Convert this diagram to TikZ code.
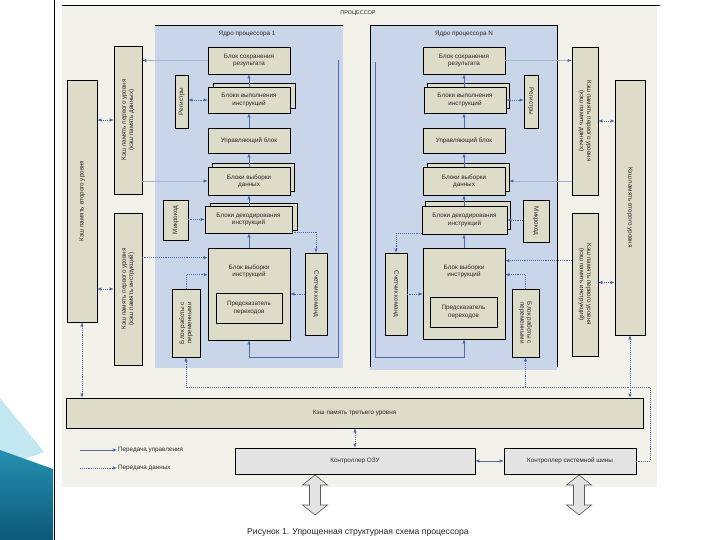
\documentclass[tikz,border=0pt]{standalone}
\usepackage{fontspec}
\setmainfont{Liberation Sans}
\usetikzlibrary{arrows.meta,calc}
\definecolor{panel}{HTML}{F2F2EB}
\definecolor{corebg}{HTML}{C9D6EA}
\definecolor{boxfill}{HTML}{DCDCC9}
\definecolor{ctrlfill}{HTML}{E4E4E4}
\definecolor{arr}{HTML}{4A6CAB}
\definecolor{faint}{HTML}{A3B6D8}
\definecolor{tealA}{HTML}{2690B2}
\definecolor{tealB}{HTML}{0C5877}
\definecolor{tealC}{HTML}{C2E7F0}
\newcommand\dfont{\fontsize{6.3}{7.2}\selectfont}
\begin{document}
\begin{tikzpicture}[x=1pt,y=-1pt,
  >={Latex[length=4pt,width=3.4pt]},
  blk/.style={draw=black,line width=0.6pt,fill=boxfill,inner sep=1pt,align=center,font=\dfont,text=black!85},
  cbox/.style={draw=black,line width=0.6pt,fill=ctrlfill,inner sep=1pt,align=center,font=\dfont,text=black!85},
  vtxt/.style={rotate=90,align=center,font=\dfont,text=black!85,inner sep=0pt},
  vtxtr/.style={rotate=-90,align=center,font=\dfont,text=black!85,inner sep=0pt},
  txt/.style={align=center,font=\dfont,text=black!85,inner sep=0pt},
  ctrlarr/.style={draw=arr,line width=0.6pt},
  dataarr/.style={draw=arr,line width=0.6pt,dash pattern=on 1.1pt off 1pt},
  faintarr/.style={draw=faint,line width=0.6pt,arrows={-Latex[length=4pt,width=3.4pt,color=arr]}},
  hollow/.style={draw=black!65,line width=0.6pt,fill=ctrlfill}
]
\useasboundingbox (0,0) rectangle (720,540);
\fill[white] (0,0) rectangle (720,540);
% slide decoration
\fill[tealC] (0,398) -- (44,452) -- (0,468) -- cycle;
\shade[top color=tealA,bottom color=tealB] (0,450) -- (53,469) -- (53,540) -- (0,540) -- cycle;
\draw[line width=0.5pt] (54,0) -- (54,540);
% panel
\fill[panel] (62,5) rectangle (657,487);
\draw[line width=0.6pt] (62,5) -- (660,5);
\node[txt,font=\fontsize{5.5}{6}\selectfont] (ttl) at (358,13) {ПРОЦЕССОР};
% cores
\node[fill=corebg,minimum width=188pt,minimum height=342pt,inner sep=0pt] (core1) at (249,197) {};
\node[fill=corebg,minimum width=187pt,minimum height=344pt,inner sep=0pt] (coreN) at (463.5,198) {};
\draw[line width=0.6pt] (core1.north west) -- (core1.north east);
\draw[line width=0.6pt] ([yshift=3pt]coreN.south west) -- (coreN.north west) -- (coreN.north east) -- ([yshift=3pt]coreN.south east);
\node[txt] (core1t) at (247,34) {Ядро процессора 1};
\node[txt] (coreNt) at (464,34) {Ядро процессора N};

% ===== core 1 =====
\node[blk,minimum width=82pt,minimum height=27pt] (save1) at (249,60.5) {Блок сохранения\\результата};
\node[blk,minimum width=82pt,minimum height=25pt] (exec1b) at (254,95.5) {};
\node[blk,minimum width=82pt,minimum height=26pt] (exec1) at (249,100) {Блоки выполнения\\инструкций};
\node[blk,minimum width=13pt,minimum height=53pt] (reg1) at (181.5,101.5) {};
\node[vtxt] (reg1t) at (reg1) {Регистры};
\node[blk,minimum width=82pt,minimum height=25pt] (ctrl1) at (249,140.5) {Управляющий блок};
\node[blk,minimum width=82pt,minimum height=28pt] (dfetch1b) at (253,177) {};
\node[blk,minimum width=82pt,minimum height=28pt] (dfetch1) at (249,181) {Блоки выборки\\данных};
\node[blk,minimum width=25pt,minimum height=40pt] (micro1) at (175.5,220) {};
\node[vtxt] (micro1t) at (micro1) {Микрокод};
\node[blk,minimum width=87pt,minimum height=27pt] (dec1b) at (253.5,216.5) {};
\node[blk,minimum width=87pt,minimum height=27pt] (dec1) at (248.5,219.5) {Блоки декодирования\\инструкций};
\node[blk,minimum width=82pt,minimum height=92pt] (ifetch1) at (249,294) {};
\node[txt] (ifetch1t) at (249,271) {Блок выборки\\инструкций};
\node[blk,minimum width=66pt,minimum height=30pt] (bp1) at (249,308) {Предсказатель\\переходов};
\node[blk,minimum width=22pt,minimum height=82pt] (pc1) at (316,294) {};
\node[vtxtr] (pc1t) at (pc1) {Счетчик команд};
\node[blk,minimum width=28pt,minimum height=68pt] (var1) at (186,323) {};
\node[vtxt] (var1t) at (var1) {Блок работы с\\переменными};

% ===== core N =====
\node[blk,minimum width=82pt,minimum height=27pt] (saveN) at (464,60.5) {Блок сохранения\\результата};
\node[blk,minimum width=82pt,minimum height=25pt] (execNb) at (468,95.5) {};
\node[blk,minimum width=82pt,minimum height=26pt] (execN) at (465,100) {Блоки выполнения\\инструкций};
\node[blk,minimum width=14pt,minimum height=53pt] (regN) at (531,101.5) {};
\node[vtxtr] (regNt) at (regN) {Регистры};
\node[blk,minimum width=82pt,minimum height=25pt] (ctrlN) at (464,140.5) {Управляющий блок};
\node[blk,minimum width=82pt,minimum height=28pt] (dfetchNb) at (468,177) {};
\node[blk,minimum width=82pt,minimum height=28pt] (dfetchN) at (464,181) {Блоки выборки\\данных};
\node[blk,minimum width=26pt,minimum height=42pt] (microN) at (536,221) {};
\node[vtxtr] (microNt) at (microN) {Микрокод};
\node[blk,minimum width=85pt,minimum height=28pt] (decNb) at (468,215) {};
\node[blk,minimum width=85pt,minimum height=28pt] (decN) at (464.5,220) {Блоки декодирования\\инструкций};
\node[blk,minimum width=82pt,minimum height=91pt] (ifetchN) at (464,293.5) {};
\node[txt] (ifetchNt) at (464,271) {Блок выборки\\инструкций};
\node[blk,minimum width=67pt,minimum height=30pt] (bpN) at (463.5,312) {Предсказатель\\переходов};
\node[blk,minimum width=22pt,minimum height=82pt] (pcN) at (396,294) {};
\node[vtxtr] (pcNt) at (pcN) {Счетчик команд};
\node[blk,minimum width=27pt,minimum height=68pt] (varN) at (525.5,323) {};
\node[vtxtr] (varNt) at (varN) {Блок работы с\\переменными};

% ===== caches =====
\node[blk,minimum width=30pt,minimum height=242pt] (l2L) at (82,201) {};
\node[vtxt] (l2Lt) at (l2L) {Кэш память второго уровня};
\node[blk,minimum width=28pt,minimum height=148pt] (l1dL) at (128,120) {};
\node[vtxt] (l1dLt) at (l1dL) {Кэш память первого уровня\\(кэш память данных)};
\node[blk,minimum width=28pt,minimum height=152pt] (l1iL) at (128,289) {};
\node[vtxt] (l1iLt) at (l1iL) {Кэш память первого уровня\\(кэш память инструкций)};
\node[blk,minimum width=26pt,minimum height=148pt] (l1dR) at (585,121) {};
\node[vtxtr] (l1dRt) at (l1dR) {Кэш память первого уровня\\(кэш память данных)};
\node[blk,minimum width=26pt,minimum height=143pt] (l1iR) at (585,284.5) {};
\node[vtxtr] (l1iRt) at (l1iR) {Кэш память первого уровня\\(кэш память инструкций)};
\node[blk,minimum width=30pt,minimum height=255pt] (l2R) at (630,207.5) {};
\node[vtxtr] (l2Rt) at (l2R) {Кэш память второго уровня};
\node[blk,minimum width=577pt,minimum height=30pt] (l3) at (354.5,413) {Кэш память третьего уровня};
\node[cbox,minimum width=240pt,minimum height=26pt] (mc) at (355,461) {Контроллер ОЗУ};
\node[cbox,minimum width=132pt,minimum height=26pt] (bus) at (570,461) {Контроллер системной шины};

% ===== core 1 connectors =====
\draw[ctrlarr,->] (exec1.north) -- (save1.south);
\draw[ctrlarr,->] (ctrl1.north) -- (exec1.south);
\draw[ctrlarr,->] (dfetch1.north) -- (ctrl1.south);
\draw[ctrlarr,->] (dfetch1.south |- dec1.north) -- (dfetch1.south);
\draw[ctrlarr,->] (ifetch1.north) -- (ifetch1.north |- dec1.south);
\coordinate (lp1a) at (338,60);
\coordinate (lp1b) at (338,357);
\draw[ctrlarr,->] (lp1a) -- (lp1b) -| (ifetch1.south);
\draw[dataarr,<->] (reg1.east |- exec1) -- (exec1.west);
\draw[dataarr,->] (micro1.east |- dec1) -- (dec1.west);
\draw[faintarr] (save1.west) -- (save1.west -| l1dL.east);
\draw[faintarr] (l1dL.east |- dfetch1) -- (dfetch1.west);
\coordinate (if1a) at ([yshift=-10pt]ifetch1.north west);
\draw[dataarr,->] (l1iL.east |- if1a) -- (if1a);
\coordinate (if1b) at ([yshift=-27pt]ifetch1.north west);
\draw[dataarr,->] (var1.north) |- (if1b);
\draw[dataarr,->] (pc1.west) -- (pc1.west -| ifetch1.east);
\draw[dataarr,->] ([yshift=1pt]dec1.south east) -| (pc1.north);

% ===== core N connectors =====
\draw[ctrlarr,->] (saveN.south |- execN.north) -- (saveN.south);
\draw[ctrlarr,->] (ctrlN.north) -- (ctrlN.north |- execN.south);
\draw[ctrlarr,->] (dfetchN.north) -- (ctrlN.south);
\draw[ctrlarr,->] (dfetchN.south |- decN.north) -- (dfetchN.south);
\draw[ctrlarr,->] (ifetchN.north) -- (ifetchN.north |- decN.south);
\coordinate (lpNa) at (375,62);
\coordinate (lpNb) at (375,357);
\draw[ctrlarr,->] (lpNa) -- (lpNb) -| (ifetchN.south);
\draw[dataarr,<->] (execN.east) -- (execN.east -| regN.west);
\draw[dataarr,->] (microN.west |- decN) -- (decN.east);
\draw[faintarr] (saveN.east) -- (saveN.east -| l1dR.west);
\draw[faintarr] (l1dR.west |- dfetchN) -- (dfetchNb.east |- dfetchN);
\coordinate (ifNa) at ([yshift=-13pt]ifetchN.north east);
\draw[dataarr,->] (l1iR.west |- ifNa) -- (ifNa);
\coordinate (ifNb) at ([yshift=-27pt]ifetchN.north east);
\draw[dataarr,->] (varN.north) |- (ifNb);
\draw[dataarr,->] (pcN.east) -- (pcN.east -| ifetchN.west);
\draw[dataarr,->] ([yshift=1pt]decN.south west) -| (pcN.north);

% ===== cache connectors =====
\draw[dataarr,<->] (l2L.east |- l1dL) -- (l1dL.west);
\draw[dataarr,<->] (l2L.east |- l1iL) -- (l1iL.west);
\draw[dataarr,<->] (l1dR.east) -- (l1dR.east -| l2R.west);
\coordinate (r2) at ([yshift=2pt]l1iR.east);
\draw[dataarr,<->] (r2) -- (r2 -| l2R.west);
\draw[dataarr,<->] (l2L.south) -- (l2L.south |- l3.north);
\draw[dataarr,<->] (l2R.south) -- (l2R.south |- l3.north);
\draw[dataarr,<->] (mc.north) -- (mc.north |- l3.south);
\draw[ctrlarr,<->] (mc.east) -- (bus.west);
\coordinate (dr) at (650,387);
\draw[dataarr,->] (bus.east) -| (dr) -| (var1.south);
\draw[dataarr,->] (varN.south |- dr) -- (varN.south);

% ===== hollow arrows =====
\coordinate (ha1) at (315,475);
\coordinate (ha2) at (579,475);
\draw[hollow] (ha1) -- ++(12.5,10) -- ++(-7,0) -- ++(0,20) -- ++(7,0) -- ++(-12.5,10) -- ++(-12.5,-10) -- ++(7,0) -- ++(0,-20) -- ++(-7,0) -- cycle;
\draw[hollow] (ha2) -- ++(12.5,10) -- ++(-7,0) -- ++(0,20) -- ++(7,0) -- ++(-12.5,10) -- ++(-12.5,-10) -- ++(7,0) -- ++(0,-20) -- ++(-7,0) -- cycle;

% ===== legend =====
\coordinate (lga) at (80,450);
\coordinate (lgb) at (117,450);
\coordinate (lgc) at (80,468);
\coordinate (lgd) at (117,468);
\draw[ctrlarr,->] (lga) -- (lgb);
\draw[dataarr,->] (lgc) -- (lgd);
\node[txt,anchor=west] (lg1t) at ([xshift=1pt]lgb) {Передача управления};
\node[txt,anchor=west] (lg2t) at ([xshift=1pt]lgd) {Передача данных};

% caption
\node[txt,font=\fontsize{8.6}{10}\selectfont] (cap) at (358,532) {Рисунок 1. Упрощенная структурная схема процессора};
\end{tikzpicture}
\end{document}
